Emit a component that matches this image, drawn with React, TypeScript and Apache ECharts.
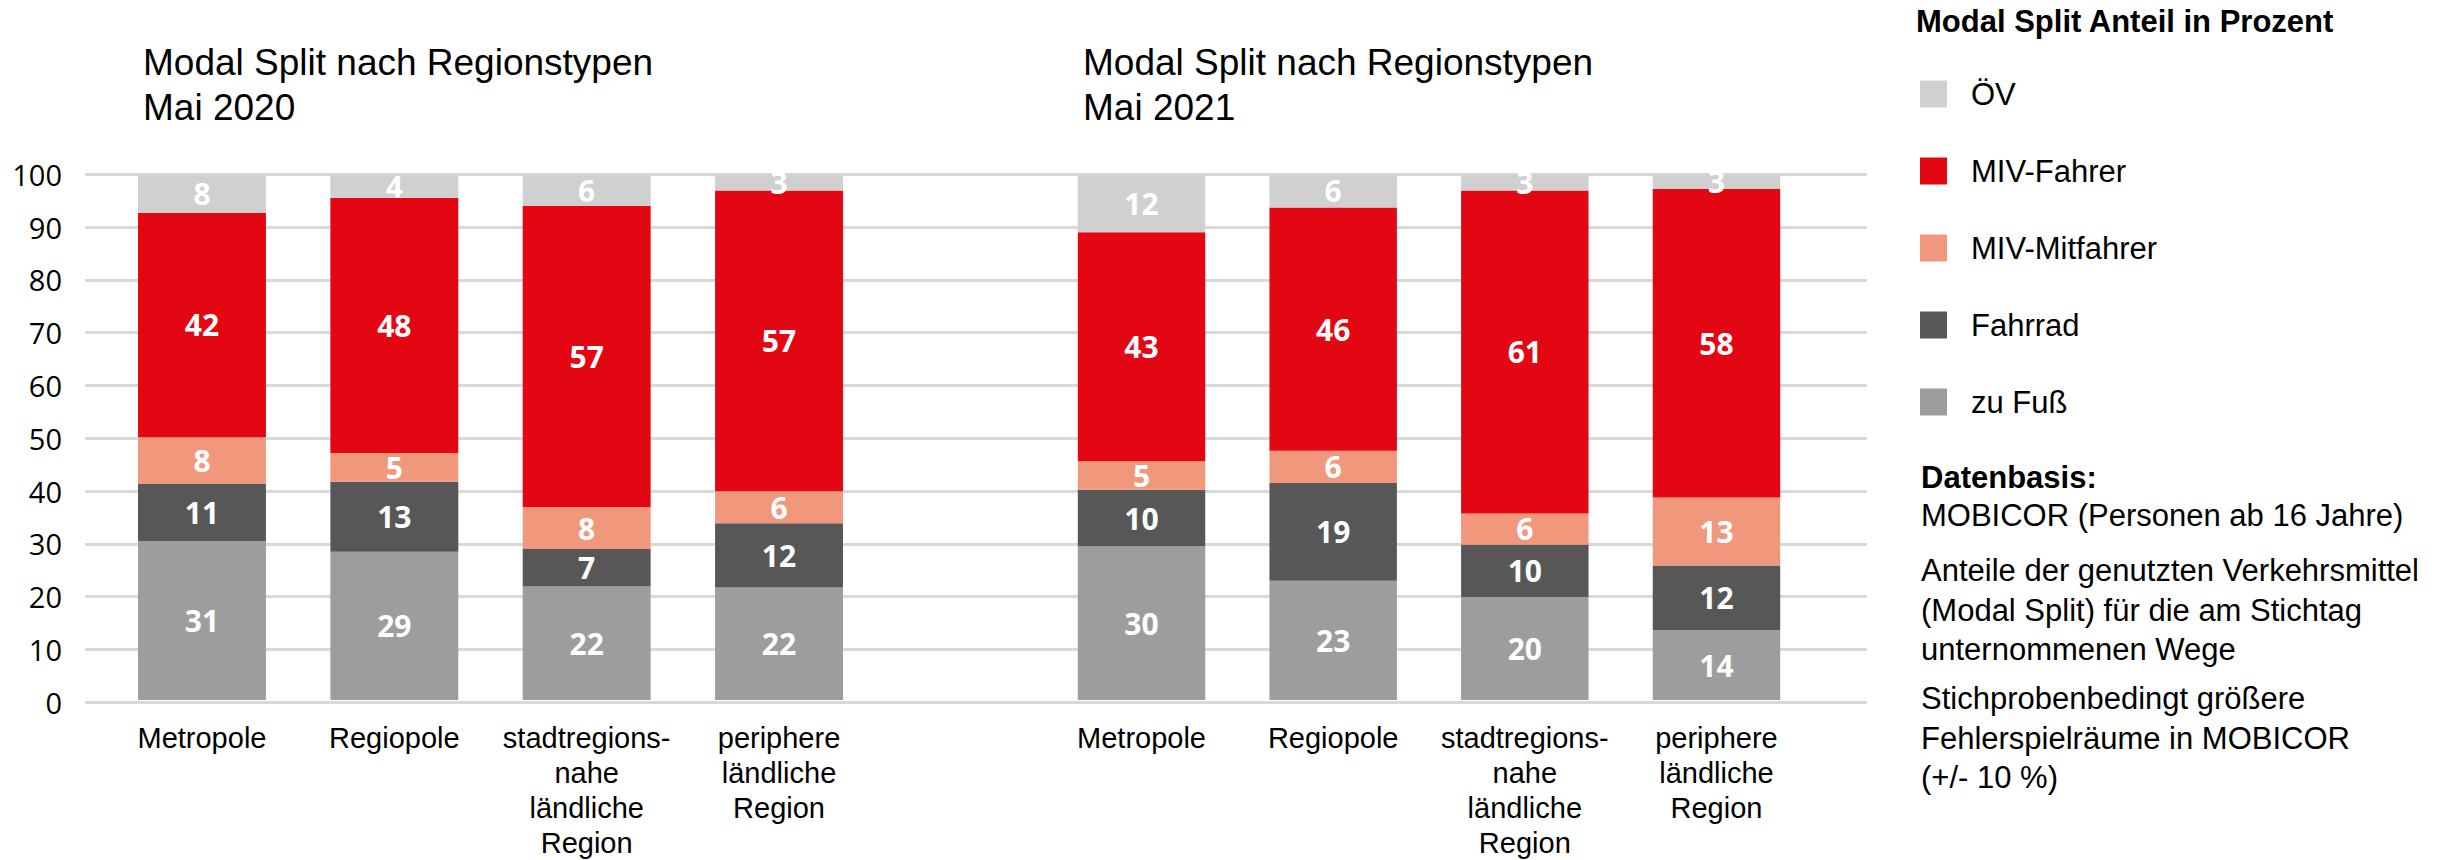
import React, { useEffect, useRef } from "react";
import * as echarts from "echarts";

const categories = [
  "Metropole",
  "Regiopole",
  "stadtregions-\nnahe\nländliche\nRegion",
  "periphere\nländliche\nRegion",
];

const yTicks = [0, 10, 20, 30, 40, 50, 60, 70, 80, 90, 100];

// Bar heights
const fuss2020 = [30.2, 28.2, 21.6, 21.4];
const fahrrad2020 = [10.9, 13.3, 7.1, 12.2];
const mitfahrer2020 = [8.9, 5.5, 8.0, 6.1];
const fahrer2020 = [42.7, 48.5, 57.3, 57.2];
const oev2020 = [7.3, 4.5, 6.0, 3.1];

const fuss2021 = [29.2, 22.7, 19.6, 13.3];
const fahrrad2021 = [10.8, 18.6, 10.0, 12.3];
const mitfahrer2021 = [5.4, 6.1, 5.9, 12.9];
const fahrer2021 = [43.6, 46.3, 61.4, 58.7];
const oev2021 = [11.0, 6.3, 3.1, 2.8];

// Printed labels
const fussLbl2020 = [31, 29, 22, 22];
const fahrradLbl2020 = [11, 13, 7, 12];
const mitfahrerLbl2020 = [8, 5, 8, 6];
const fahrerLbl2020 = [42, 48, 57, 57];
const oevLbl2020 = [8, 4, 6, 3];

const fussLbl2021 = [30, 23, 20, 14];
const fahrradLbl2021 = [10, 19, 10, 12];
const mitfahrerLbl2021 = [5, 6, 6, 13];
const fahrerLbl2021 = [43, 46, 61, 58];
const oevLbl2021 = [12, 6, 3, 3];

const seriesNames = ["zu Fuß", "Fahrrad", "MIV-Mitfahrer", "MIV-Fahrer", "ÖV"];
const legendOrder = ["ÖV", "MIV-Fahrer", "MIV-Mitfahrer", "Fahrrad", "zu Fuß"];
const colors = ["#9d9d9d", "#575757", "#f1977b", "#e30613", "#d0d0d0"];

const FONT = "'Liberation Sans', Arial, sans-serif";
const NUMFONT = "'Open Sans', 'Liberation Sans', sans-serif";

export default function App() {
  const ref = useRef<HTMLDivElement>(null);

  useEffect(() => {
    if (!ref.current) return;
    const chart = echarts.init(ref.current, null, { renderer: "svg" });

    const values2020 = [fuss2020, fahrrad2020, mitfahrer2020, fahrer2020, oev2020];
    const labels2020 = [fussLbl2020, fahrradLbl2020, mitfahrerLbl2020, fahrerLbl2020, oevLbl2020];
    const values2021 = [fuss2021, fahrrad2021, mitfahrer2021, fahrer2021, oev2021];
    const labels2021 = [fussLbl2021, fahrradLbl2021, mitfahrerLbl2021, fahrerLbl2021, oevLbl2021];

    const mkSeries = (vals: number[][], lbls: number[][], idx: number, stack: string) =>
      seriesNames.map((name, i) => ({
        name,
        type: "bar",
        stack,
        xAxisIndex: idx,
        yAxisIndex: idx,
        barCategoryGap: "33.5%",
        itemStyle: { color: colors[i] },
        label: {
          show: true,
          position: "inside",
          color: "#ffffff",
          fontWeight: "bold",
          fontSize: 30,
          fontFamily: NUMFONT,
          formatter: (p: any) => String(lbls[i][p.dataIndex]),
        },
        emphasis: { disabled: true },
        data: vals[i],
      }));

    const gridTop = 174.3;
    const gridBottom = 860 - 702.3;

    const catAxis = (gridIndex: number) => ({
      type: "category",
      gridIndex,
      data: categories,
      axisLine: { show: false },
      axisTick: { show: false },
      axisLabel: {
        interval: 0,
        fontSize: 29,
        lineHeight: 35,
        margin: 20,
        color: "#000",
        fontFamily: FONT,
      },
    });

    const hiddenY = (gridIndex: number) => ({
      type: "value",
      gridIndex,
      min: 0,
      max: 100,
      interval: 10,
      show: false,
      splitLine: { show: false },
    });

    const titleStyle = { fontSize: 37, fontWeight: "normal", lineHeight: 45, color: "#000", fontFamily: FONT };

    chart.setOption({
      animation: false,
      title: [
        { text: "Modal Split nach Regionstypen\nMai 2020", left: 143, top: 40, padding: 0, textStyle: titleStyle },
        { text: "Modal Split nach Regionstypen\nMai 2021", left: 1083, top: 40, padding: 0, textStyle: titleStyle },
      ],
      legend: {
        data: legendOrder,
        orient: "vertical",
        left: 1920,
        top: 78.5,
        padding: 0,
        itemWidth: 27,
        itemHeight: 27,
        itemGap: 46,
        icon: "rect",
        selectedMode: false,
        textStyle: { fontSize: 31, lineHeight: 31, color: "#000", fontFamily: FONT, padding: [0, 0, 0, 19] },
      },
      grid: [
        { left: 105.8, right: 2454 - 875.2, top: gridTop, bottom: gridBottom },
        { left: 1045.7, right: 2454 - 1812.3, top: gridTop, bottom: gridBottom },
        { left: 85, right: 2454 - 1867, top: gridTop, bottom: gridBottom },
      ],
      xAxis: [catAxis(0), catAxis(1), { type: "value", gridIndex: 2, min: 0, max: 1, show: false }],
      yAxis: [
        hiddenY(0),
        hiddenY(1),
        {
          type: "value",
          gridIndex: 2,
          min: yTicks[0],
          max: yTicks[yTicks.length - 1],
          interval: 10,
          axisLine: { show: false },
          axisTick: { show: false },
          axisLabel: { fontSize: 29, color: "#000", margin: 23, fontFamily: NUMFONT },
          splitLine: { show: true, lineStyle: { color: "#d9d9d9", width: 3 } },
        },
      ],
      series: [
        ...mkSeries(values2020, labels2020, 0, "y2020"),
        ...mkSeries(values2021, labels2021, 1, "y2021"),
      ],
      graphic: [
        {
          type: "text",
          left: 1916,
          top: 6,
          style: { text: "Modal Split Anteil in Prozent", fill: "#000", font: `bold 31px ${FONT}` },
        },
        {
          type: "text",
          left: 1921,
          top: 458,
          style: { text: "Datenbasis:", fill: "#000", font: `bold 31px ${FONT}`, lineHeight: 39 },
        },
        {
          type: "text",
          left: 1921,
          top: 496,
          style: { text: "MOBICOR (Personen ab 16 Jahre)", fill: "#000", font: `31px ${FONT}`, lineHeight: 39 },
        },
        {
          type: "text",
          left: 1921,
          top: 551,
          style: {
            text: "Anteile der genutzten Verkehrsmittel\n(Modal Split) für die am Stichtag\nunternommenen Wege",
            fill: "#000",
            font: `31px ${FONT}`,
            lineHeight: 39.5,
          },
        },
        {
          type: "text",
          left: 1921,
          top: 679,
          style: {
            text: "Stichprobenbedingt größere\nFehlerspielräume in MOBICOR\n(+/- 10 %)",
            fill: "#000",
            font: `31px ${FONT}`,
            lineHeight: 39.5,
          },
        },
      ],
    });

    return () => chart.dispose();
  }, []);

  return (
    <div
      ref={ref}
      style={{ position: "absolute", left: 0, top: 0, width: 2454, height: 860, background: "#fff" }}
    />
  );
}
